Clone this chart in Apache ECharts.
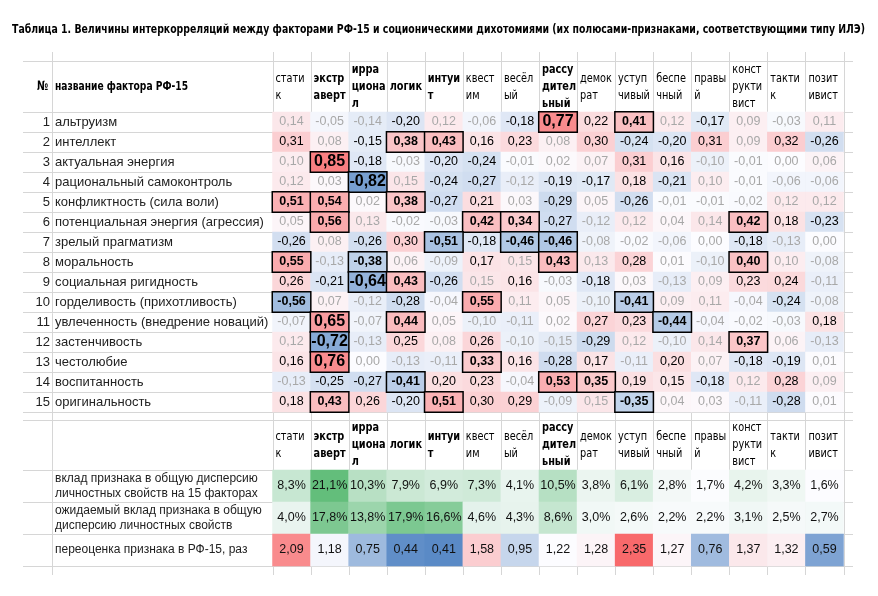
<!DOCTYPE html>
<html>
<head>
<meta charset="utf-8">
<script src="https://cdn.jsdelivr.net/npm/echarts@6/dist/echarts.min.js"></script>
<style>
  html, body { margin: 0; padding: 0; background: #fff; }
  #chart { width: 878px; height: 596px; }
</style>
</head>
<body>
<div id="chart"></div>
<script>
// заголовки столбцов (полюса дихотомий), жирным - признаки ИЛЭ
const dichotomies = ['стати\nк', 'экстр\nаверт', 'ирра\nциона\nл', 'логик', 'интуи\nт', 'квест\nим', 'весёл\nый',
  'рассу\nдител\nьный', 'демок\nрат', 'уступ\nчивый', 'беспе\nчный', 'правы\nй', 'конст\nрукти\nвист', 'такти\nк', 'позит\nивист']
const boldCols = [1, 2, 3, 4, 7]

const factors = ['альтруизм', 'интеллект', 'актуальная энергия', 'рациональный самоконтроль', 'конфликтность (сила воли)',
  'потенциальная энергия (агрессия)', 'зрелый прагматизм', 'моральность', 'социальная ригидность',
  'горделивость (прихотливость)', 'увлеченность (внедрение новаций)', 'застенчивость', 'честолюбие',
  'воспитанность', 'оригинальность']

// корреляции: строка = фактор, столбец = дихотомия
const corr = [
  [0.14, -0.05, -0.14, -0.20, 0.12, -0.06, -0.18, 0.77, 0.22, 0.41, 0.12, -0.17, 0.09, -0.03, 0.11],
  [0.31, 0.08, -0.15, 0.38, 0.43, 0.16, 0.23, 0.08, 0.30, -0.24, -0.20, 0.31, 0.09, 0.32, -0.26],
  [0.10, 0.85, -0.18, -0.03, -0.20, -0.24, -0.01, 0.02, 0.07, 0.31, 0.16, -0.10, -0.01, 0.00, 0.06],
  [0.12, 0.03, -0.82, 0.15, -0.24, -0.27, -0.12, -0.19, -0.17, 0.18, -0.21, 0.10, -0.01, -0.06, -0.06],
  [0.51, 0.54, 0.02, 0.38, -0.27, 0.21, 0.03, -0.29, 0.05, -0.26, -0.01, -0.01, -0.02, 0.12, 0.12],
  [0.05, 0.56, 0.13, -0.02, -0.03, 0.42, 0.34, -0.27, -0.12, 0.12, 0.04, 0.14, 0.42, 0.18, -0.23],
  [-0.26, 0.08, -0.26, 0.30, -0.51, -0.18, -0.46, -0.46, -0.08, -0.02, -0.06, 0.00, -0.18, -0.13, 0.00],
  [0.55, -0.13, -0.38, 0.06, -0.09, 0.17, 0.15, 0.43, 0.13, 0.28, 0.01, -0.10, 0.40, 0.10, -0.08],
  [0.26, -0.21, -0.64, 0.43, -0.26, 0.15, 0.16, -0.03, -0.18, 0.03, -0.13, 0.09, 0.23, 0.24, -0.11],
  [-0.56, 0.07, -0.12, -0.28, -0.04, 0.55, 0.11, 0.05, -0.10, -0.41, 0.09, 0.11, -0.04, -0.24, -0.08],
  [-0.07, 0.65, -0.07, 0.44, 0.05, -0.10, -0.11, 0.02, 0.27, 0.23, -0.44, -0.04, -0.02, -0.03, 0.18],
  [0.12, -0.72, -0.13, 0.25, 0.08, 0.26, -0.10, -0.15, -0.29, 0.12, -0.10, 0.14, 0.37, 0.06, -0.13],
  [0.16, 0.76, 0.00, -0.13, -0.11, 0.33, 0.16, -0.28, 0.17, -0.11, 0.20, 0.07, -0.18, -0.19, 0.01],
  [-0.13, -0.25, -0.27, -0.41, 0.20, 0.23, -0.04, 0.53, 0.35, 0.19, 0.15, -0.18, 0.12, 0.28, 0.09],
  [0.18, 0.43, 0.26, -0.20, 0.51, 0.30, 0.29, -0.09, 0.15, -0.35, 0.04, 0.03, -0.11, -0.28, 0.01]
]
// ячейки 0,15 которые в таблице всё же чёрным
const darkExtra = ['1-2', '13-10']

const bottomLabels = ['вклад признака в общую дисперсию\nличностных свойств на 15 факторах',
  'ожидаемый вклад признака в общую\nдисперсию личностных свойств', 'переоценка признака в РФ-15, раз']
const contribution = [8.3, 21.1, 10.3, 7.9, 6.9, 7.3, 4.1, 10.5, 3.8, 6.1, 2.8, 1.7, 4.2, 3.3, 1.6]
const expected = [4.0, 17.8, 13.8, 17.9, 16.6, 4.6, 4.3, 8.6, 3.0, 2.6, 2.2, 2.2, 3.1, 2.5, 2.7]
const overestimate = [2.09, 1.18, 0.75, 0.44, 0.41, 1.58, 0.95, 1.22, 1.28, 2.35, 1.27, 0.76, 1.37, 1.32, 0.59]

const TITLE = 'Таблица 1. Величины интеркорреляций между факторами РФ-15 и соционическими дихотомиями (их полюсами-признаками, соответствующими типу ИЛЭ)'

const SANS = "'Liberation Sans', Arial, sans-serif"
const BLUE = [90, 138, 198], WHITE = [252, 252, 255], RED = [248, 105, 107], GREEN = [99, 190, 123]

const X0 = 272.5, X1 = 843.5, COLW = (X1 - X0) / 15
const MAIN_TOP = 112, MAIN_H = 300, BOT_TOP = 470, BOT_H = 96

const fmt = (v, d) => v.toFixed(d).replace('.', ',')
const mix = (a, b, t) => 'rgb(' + a.map((c, i) => Math.round(c + (b[i] - c) * t)).join(',') + ')'

// узкого шрифта (Arial Narrow) нет - сжимаем DejaVu Condensed по ширине
const measure = document.createElement('canvas').getContext('2d')
const squeeze = (text, font, target) => {
  measure.font = font
  return target / measure.measureText(text).width
}
const BOLD13 = "bold 13px 'DejaVu Sans Condensed'"
const REG13 = "13px 'DejaVu Sans Condensed'"
const titleScale = squeeze(TITLE, BOLD13, 853)
const headScale = squeeze('название фактора РФ-15', BOLD13, 133)
const colScale = squeeze('стати', REG13, 29)

// подписи столбцов над обеими таблицами
const headerTexts = []
;[87, 445].forEach(cy => {
  dichotomies.forEach((d, i) => {
    headerTexts.push({
      type: 'text', x: X0 + i * COLW + 3, y: cy, scaleX: colScale,
      style: { text: d, font: boldCols.includes(i) ? BOLD13 : REG13, lineHeight: 17, verticalAlign: 'middle', fill: '#000' }
    })
  })
})

// данные для heatmap
const plain = [], strong = []
corr.forEach((row, r) => {
  row.forEach((v, c) => {
    const a = Math.abs(v)
    const dark = a >= 0.155 || darkExtra.includes(r + '-' + c)
    const item = {
      value: [c, r, v],
      label: {
        color: dark ? '#000' : '#a8a8a8',
        fontWeight: a >= 0.33 ? 'bold' : 'normal',
        fontSize: a >= 0.6 ? 16 : 12.5
      }
    }
    ;(a >= 0.33 ? strong : plain).push(item)
  })
})

const greenData = [], overData = []
const gMin = Math.min(...contribution, ...expected), gMax = Math.max(...contribution, ...expected)
;[contribution, expected].forEach((arr, r) => {
  arr.forEach((v, c) => greenData.push({ value: [c, r, v], itemStyle: { color: mix(WHITE, GREEN, (v - gMin) / (gMax - gMin)) } }))
})
const oSorted = [...overestimate].sort((a, b) => a - b)
const oMin = oSorted[0], oMax = oSorted[oSorted.length - 1], oMid = oSorted[7]
overestimate.forEach((v, c) => {
  const col = v < oMid ? mix(BLUE, WHITE, (v - oMin) / (oMid - oMin)) : mix(WHITE, RED, (v - oMid) / (oMax - oMid))
  overData.push({ value: [c, 2, v], itemStyle: { color: col } })
})

// сетка таблицы
const lines = []
const hline = (y, x1, x2) => lines.push({ type: 'line', shape: { x1, y1: y, x2, y2: y }, style: { stroke: '#d6d6d6', lineWidth: 1 }, z: 0 })
const vline = (x, y1, y2) => lines.push({ type: 'line', shape: { x1: x, y1, x2: x, y2 }, style: { stroke: '#d6d6d6', lineWidth: 1 }, z: 0 })
hline(61.5, 23, 853)
for (let k = 0; k <= 15; k++) hline(MAIN_TOP + k * MAIN_H / 15 + 0.5, 23, 853)
hline(420.5, 23, 853)
for (let k = 0; k <= 3; k++) hline(BOT_TOP + k * BOT_H / 3 + 0.5, 23, 853)
vline(52.5, 52, 575)
for (let k = 0; k <= 15; k++) vline(Math.round(X0 + k * COLW) + 0.5, 52, 575)

const chart = echarts.init(document.getElementById('chart'))
chart.setOption({
  backgroundColor: '#fff',
  animation: false,
  graphic: [
    ...lines,
    ...headerTexts,
    { type: 'text', x: 12, y: 30, scaleX: titleScale, style: { text: TITLE, font: BOLD13, verticalAlign: 'middle', fill: '#000' } },
    { type: 'text', x: 37, y: 87, scaleX: headScale, style: { text: '№', font: BOLD13, verticalAlign: 'middle', fill: '#000' } },
    { type: 'text', x: 55, y: 87, scaleX: headScale, style: { text: 'название фактора РФ-15', font: BOLD13, verticalAlign: 'middle', fill: '#000' } }
  ],
  visualMap: {
    show: false, type: 'continuous', min: -1, max: 1, seriesIndex: [0, 1],
    inRange: { color: ['#5A8AC6', '#FCFCFF', '#F8696B'] }
  },
  grid: [
    { left: X0, top: MAIN_TOP, width: X1 - X0, height: MAIN_H },
    { left: X0, top: BOT_TOP, width: X1 - X0, height: BOT_H }
  ],
  xAxis: [0, 1].map(g => ({
    type: 'category', gridIndex: g, position: 'top', data: dichotomies,
    axisLine: { show: false }, axisTick: { show: false }, splitLine: { show: false }, axisLabel: { show: false }
  })),
  yAxis: [
    {
      type: 'category', gridIndex: 0, inverse: true, data: factors,
      axisLine: { show: false }, axisTick: { show: false },
      axisLabel: { interval: 0, align: 'left', margin: X0 - 55, fontFamily: SANS, fontSize: 13, color: '#222' }
    },
    {
      type: 'category', gridIndex: 0, inverse: true, position: 'left', data: factors.map((f, i) => String(i + 1)),
      axisLine: { show: false }, axisTick: { show: false },
      axisLabel: { interval: 0, align: 'right', margin: X0 - 50, fontFamily: SANS, fontSize: 13, color: '#222' }
    },
    {
      type: 'category', gridIndex: 1, inverse: true, data: bottomLabels,
      axisLine: { show: false }, axisTick: { show: false },
      axisLabel: { interval: 0, align: 'left', margin: X0 - 55, fontFamily: SANS, fontSize: 12, lineHeight: 15, color: '#222' }
    }
  ],
  series: [
    {
      type: 'heatmap', xAxisIndex: 0, yAxisIndex: 0, data: plain,
      label: { show: true, fontFamily: SANS, formatter: p => fmt(p.value[2], 2) },
      emphasis: { disabled: true }, z: 2
    },
    {
      type: 'heatmap', xAxisIndex: 0, yAxisIndex: 0, data: strong,
      itemStyle: { borderColor: '#000', borderWidth: 1.5 },
      label: { show: true, fontFamily: SANS, formatter: p => fmt(p.value[2], 2) },
      emphasis: { disabled: true }, z: 3
    },
    {
      type: 'heatmap', xAxisIndex: 1, yAxisIndex: 2, data: greenData,
      label: { show: true, fontFamily: SANS, fontSize: 12.5, color: '#111', formatter: p => fmt(p.value[2], 1) + '%' },
      emphasis: { disabled: true }, z: 2
    },
    {
      type: 'heatmap', xAxisIndex: 1, yAxisIndex: 2, data: overData,
      label: { show: true, fontFamily: SANS, fontSize: 12.5, color: '#111', formatter: p => fmt(p.value[2], 2) },
      emphasis: { disabled: true }, z: 2
    }
  ]
})
</script>
</body>
</html>
